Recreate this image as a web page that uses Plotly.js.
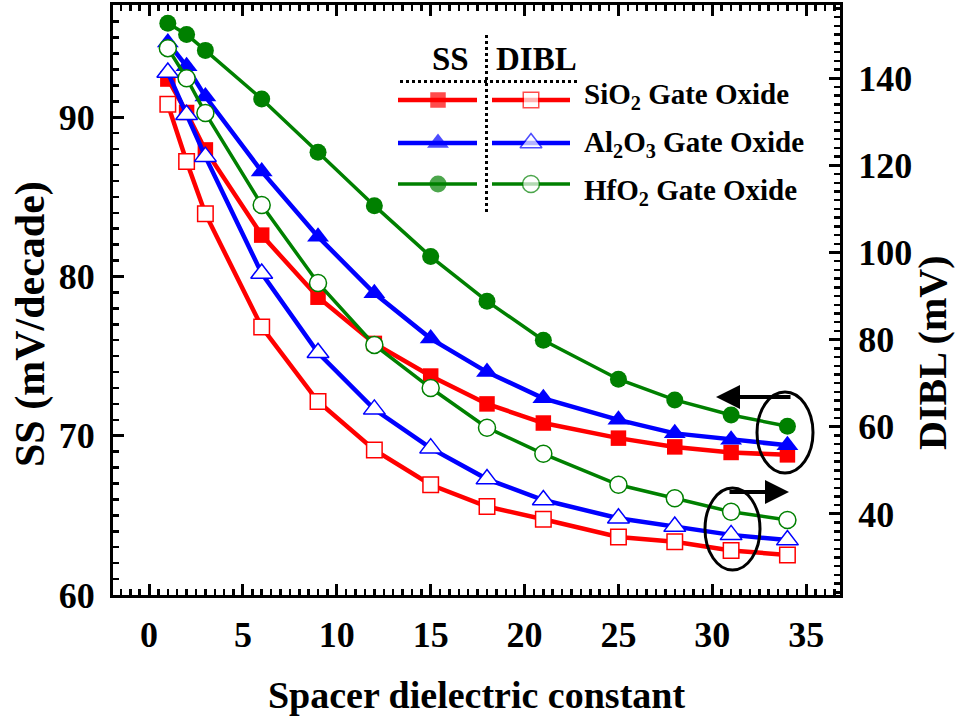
<!DOCTYPE html>
<html>
<head>
<meta charset="utf-8">
<script src="https://cdn.plot.ly/plotly-3.0.1.min.js"></script>
<style>html,body{margin:0;padding:0;background:#fff;}#chart{width:958px;height:717px;}</style>
</head>
<body>
<div id="chart"></div>
<script>
// ---- data ----
const spacerK = [1, 2, 3, 6, 9, 12, 15, 18, 21, 25, 28, 31, 34];
const ssSiO2  = [92.4, 90.3, 87.95, 82.6, 78.7, 75.8, 73.75, 72.0, 70.8, 69.85, 69.3, 68.95, 68.8];
const ssAl2O3 = [94.7, 93.2, 91.3, 86.6, 82.5, 78.95, 76.1, 74.0, 72.35, 71.0, 70.15, 69.75, 69.4];
const ssHfO2  = [95.9, 95.2, 94.2, 91.15, 87.8, 84.45, 81.25, 78.45, 76.0, 73.55, 72.25, 71.3, 70.6];
const diblSiO2  = [134.0, 120.9, 108.9, 82.9, 65.8, 54.7, 46.7, 41.7, 38.8, 34.7, 33.6, 31.6, 30.6];
const diblAl2O3 = [141.3, 131.6, 122.0, 95.2, 77.0, 64.0, 55.1, 48.0, 43.2, 39.0, 37.1, 35.2, 34.0];
const diblHfO2  = [146.9, 140.0, 132.0, 110.9, 93.0, 78.8, 68.9, 59.8, 53.8, 46.7, 43.6, 40.5, 38.6];
const oxideLabels = ['SiO<sub>2</sub> Gate Oxide', 'Al<sub>2</sub>O<sub>3</sub> Gate Oxide', 'HfO<sub>2</sub> Gate Oxide'];
const xTitle = 'Spacer dielectric constant';
const yTitle = 'SS (mV/decade)';
const y2Title = 'DIBL (mV)';

// ---- styles ----
const RED = '#ff0000', BLUE = '#0000ff', GREEN = '#008000';
const FONT = 'Liberation Serif, Times New Roman, serif';
const styles = [
  {color: RED, sym: 'square', size: 15.5, lw: 4.5},
  {color: BLUE, sym: 'triangle-up', size: 19, lw: 4.5},
  {color: GREEN, sym: 'circle', size: 17, lw: 3.5}
];
const ssSets = [ssSiO2, ssAl2O3, ssHfO2];
const dSets = [diblSiO2, diblAl2O3, diblHfO2];

const traces = [];
ssSets.forEach((ys, i) => {
  const s = styles[i];
  traces.push({x: spacerK, y: ys, xaxis: 'x', yaxis: 'y', mode: 'lines+markers', showlegend: false,
    line: {color: s.color, width: s.lw},
    marker: {symbol: s.sym, size: s.size, color: s.color, line: {width: 0}}});
});
dSets.forEach((ys, i) => {
  const s = styles[i];
  traces.push({x: spacerK, y: ys, xaxis: 'x', yaxis: 'y2', mode: 'lines+markers', showlegend: false,
    line: {color: s.color, width: s.lw},
    marker: {symbol: s.sym, size: s.size, color: '#ffffff', line: {color: s.color, width: 1.5}}});
});

// legend (drawn on a hidden pixel-like overlay axis)
const rowY = [100, 143, 184];
const labelY = [96, 144, 192];
const shapes = [];
const annotations = [];
rowY.forEach((yy, i) => {
  const s = styles[i];
  traces.push({x: [398, 438, 477], y: [yy, yy, yy], xaxis: 'x3', yaxis: 'y3', mode: 'lines+markers', showlegend: false,
    line: {color: s.color, width: s.lw}, marker: {symbol: s.sym, size: [0, s.size, 0], color: s.color, line: {width: 0}}});
  traces.push({x: [492, 531, 570], y: [yy, yy, yy], xaxis: 'x3', yaxis: 'y3', mode: 'lines+markers', showlegend: false,
    line: {color: s.color, width: s.lw}, marker: {symbol: s.sym, size: [0, s.size, 0], color: '#ffffff', line: {color: s.color, width: 1.5}}});
  annotations.push({xref: 'x3', yref: 'y3', x: 582, y: labelY[i], xanchor: 'left', yanchor: 'middle', showarrow: false,
    text: oxideLabels[i], font: {family: FONT, size: 29, color: '#000', weight: 'bold'}});
});
annotations.push({xref: 'x3', yref: 'y3', x: 450, y: 59, xanchor: 'center', yanchor: 'middle', showarrow: false,
  text: 'SS', font: {family: FONT, size: 33, color: '#000', weight: 'bold'}});
annotations.push({xref: 'x3', yref: 'y3', x: 536, y: 59, xanchor: 'center', yanchor: 'middle', showarrow: false,
  text: 'DIBL', font: {family: FONT, size: 33, color: '#000', weight: 'bold'}});
// axis titles for the y axes
annotations.push({xref: 'paper', yref: 'paper', x: (30 - 113) / 727, y: (595 - 324) / 590, xanchor: 'center', yanchor: 'middle',
  showarrow: false, textangle: -90, text: yTitle, font: {family: FONT, size: 42, color: '#000', weight: 'bold'}});
annotations.push({xref: 'paper', yref: 'paper', x: (932 - 113) / 727, y: (595 - 353) / 590, xanchor: 'center', yanchor: 'middle',
  showarrow: false, textangle: -90, text: y2Title, font: {family: FONT, size: 40, color: '#000', weight: 'bold'}});
shapes.push({type: 'line', xref: 'x3', yref: 'y3', x0: 486.5, x1: 486.5, y0: 35, y1: 212, line: {color: '#000', width: 3, dash: 'dot'}});
shapes.push({type: 'line', xref: 'x3', yref: 'y3', x0: 400, x1: 578, y0: 81.5, y1: 81.5, line: {color: '#000', width: 3, dash: 'dot'}});
// ellipses
shapes.push({type: 'circle', xref: 'x3', yref: 'y3', x0: 757, x1: 813, y0: 392, y1: 473, line: {color: '#000', width: 3}});
shapes.push({type: 'circle', xref: 'x3', yref: 'y3', x0: 705, x1: 760, y0: 488, y1: 570, line: {color: '#000', width: 3}});
// arrows
annotations.push({xref: 'x3', yref: 'y3', axref: 'x3', ayref: 'y3', x: 716, y: 397, ax: 792, ay: 397, text: '', showarrow: true,
  arrowhead: 2, arrowsize: 1.2, arrowwidth: 4, arrowcolor: '#000'});
annotations.push({xref: 'x3', yref: 'y3', axref: 'x3', ayref: 'y3', x: 789, y: 492, ax: 728, ay: 492, text: '', showarrow: true,
  arrowhead: 2, arrowsize: 1.2, arrowwidth: 4, arrowcolor: '#000'});

const tickFont = {family: FONT, size: 36, color: '#000', weight: 'bold'};
const titleFont = {family: FONT, size: 38, color: '#000', weight: 'bold'};

const layout = {
  width: 958, height: 717,
  margin: {l: 113, r: 118, t: 5, b: 122},
  paper_bgcolor: '#fff', plot_bgcolor: '#fff',
  showlegend: false,
  xaxis: {range: [-1.92, 36.8], tick0: 0, dtick: 5, ticks: 'inside', ticklen: 11, tickwidth: 3, tickcolor: '#000',
    minor: {dtick: 0.5, ticks: 'inside', ticklen: 6, tickwidth: 2.5, tickcolor: '#000'},
    showline: true, linewidth: 3, linecolor: '#000', mirror: 'ticks', showgrid: false, zeroline: false,
    tickfont: tickFont, ticklabelstandoff: 6,
    title: {text: xTitle, font: titleFont, standoff: 28}},
  yaxis: {range: [60, 97.05], tick0: 0, dtick: 10, ticks: 'inside', ticklen: 11, tickwidth: 3, tickcolor: '#000',
    minor: {dtick: 1, ticks: 'inside', ticklen: 6, tickwidth: 2.5, tickcolor: '#000'},
    showline: true, linewidth: 3, linecolor: '#000', mirror: false, showgrid: false, zeroline: false,
    tickfont: tickFont, ticklabelstandoff: 8},
  yaxis2: {range: [21.4, 156.8], tick0: 0, dtick: 20, overlaying: 'y', side: 'right', ticks: 'inside', ticklen: 11, tickwidth: 3, tickcolor: '#000',
    minor: {dtick: 2, ticks: 'inside', ticklen: 6, tickwidth: 2.5, tickcolor: '#000'},
    showline: true, linewidth: 3, linecolor: '#000', showgrid: false, zeroline: false,
    tickfont: tickFont, ticklabelstandoff: 8},
  xaxis3: {overlaying: 'x', range: [113, 840], visible: false, fixedrange: true},
  yaxis3: {overlaying: 'y', range: [595, 5], visible: false, fixedrange: true},
  shapes: shapes,
  annotations: annotations
};

Plotly.newPlot('chart', traces, layout, {staticPlot: true, displayModeBar: false});
</script>
</body>
</html>
